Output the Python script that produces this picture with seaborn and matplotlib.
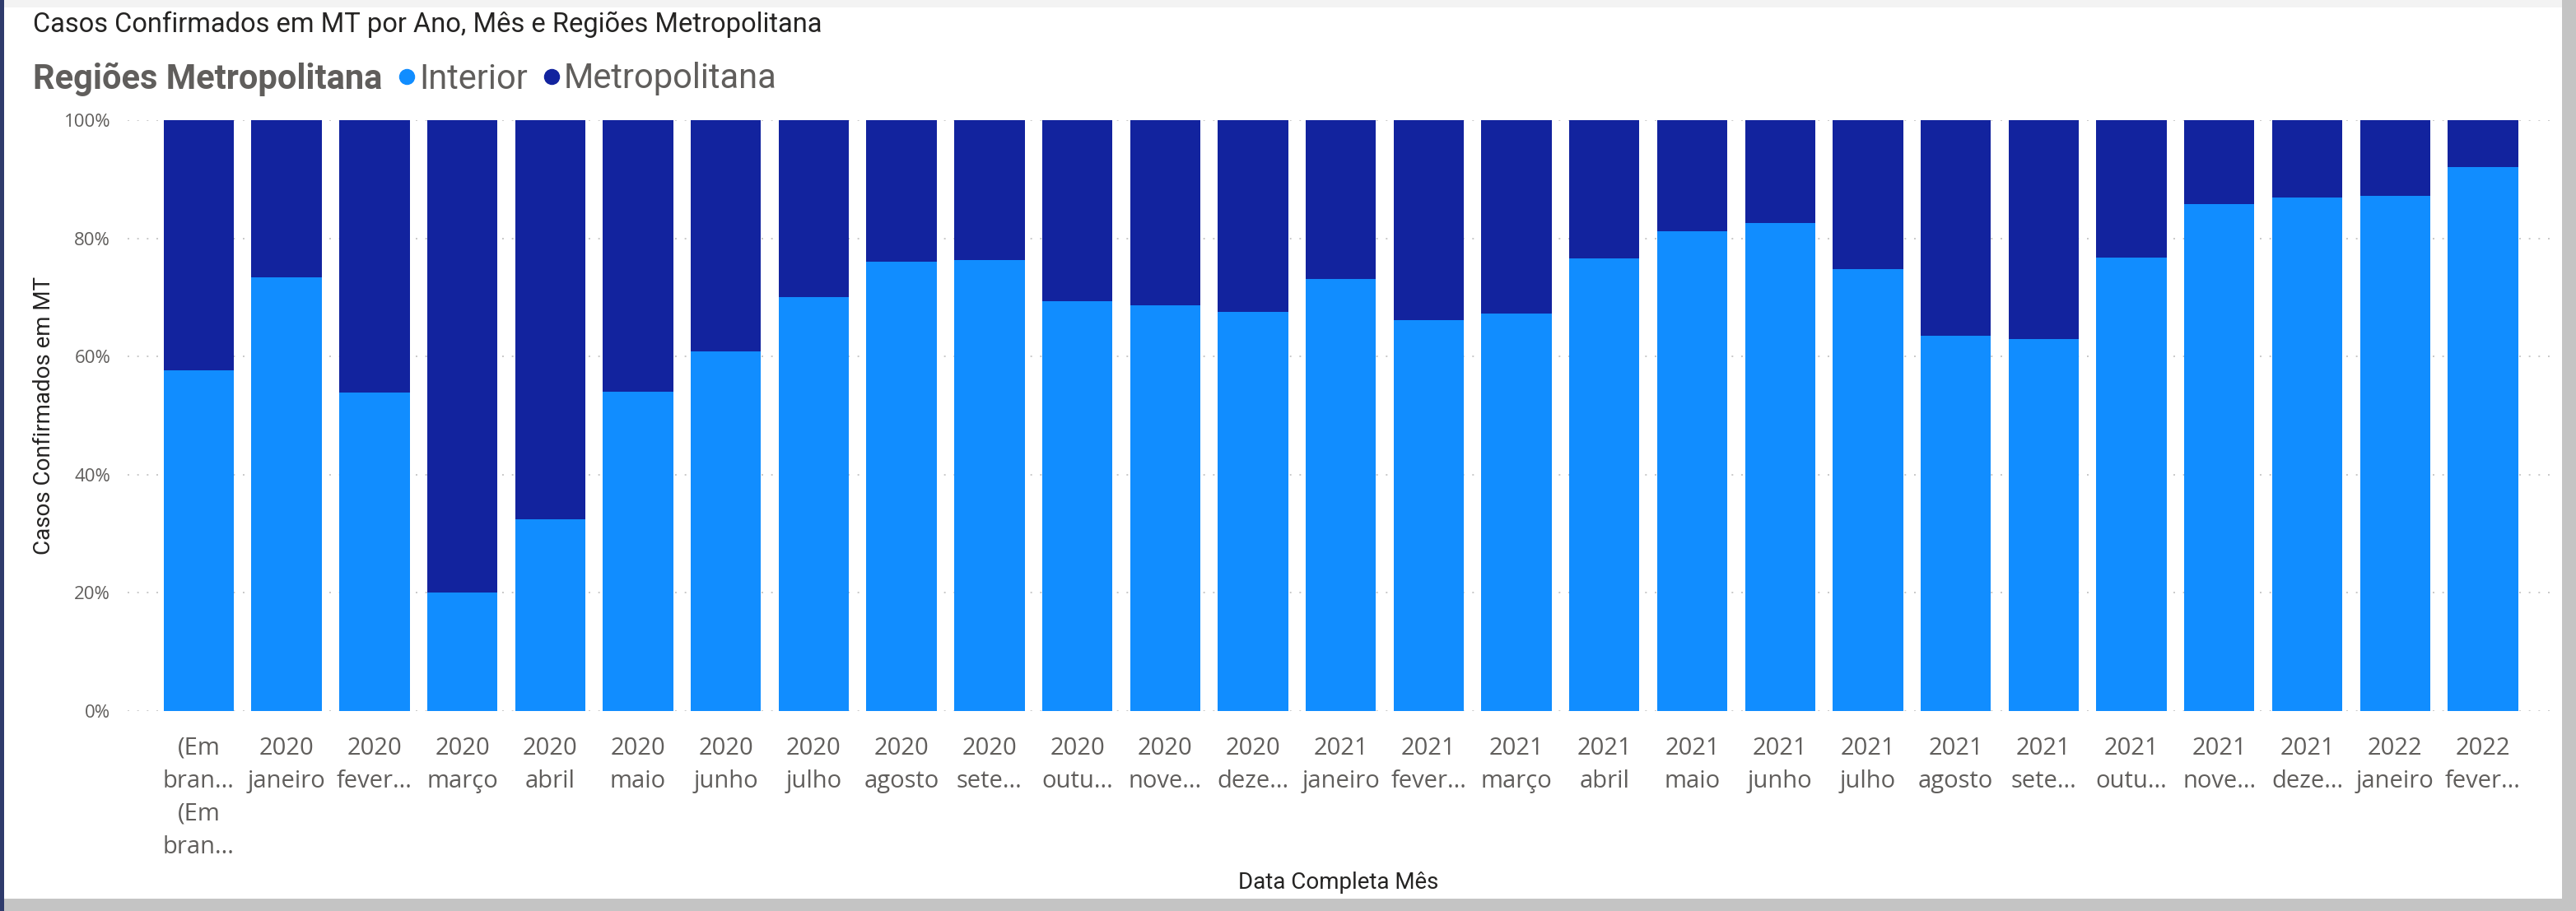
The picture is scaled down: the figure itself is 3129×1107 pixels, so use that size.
import matplotlib
matplotlib.use("Agg")
import matplotlib.pyplot as plt
import seaborn as sns
import pandas as pd
from matplotlib.patches import Rectangle
from matplotlib.lines import Line2D

# ---------------- data ----------------
categories = [
    "(Em branco)", "2020 janeiro", "2020 fevereiro", "2020 março", "2020 abril",
    "2020 maio", "2020 junho", "2020 julho", "2020 agosto", "2020 setembro",
    "2020 outubro", "2020 novembro", "2020 dezembro", "2021 janeiro",
    "2021 fevereiro", "2021 março", "2021 abril", "2021 maio", "2021 junho",
    "2021 julho", "2021 agosto", "2021 setembro", "2021 outubro",
    "2021 novembro", "2021 dezembro", "2022 janeiro", "2022 fevereiro",
]
tick_labels = [
    "(Em\nbran...\n(Em\nbran...", "2020\njaneiro", "2020\nfever...", "2020\nmarço",
    "2020\nabril", "2020\nmaio", "2020\njunho", "2020\njulho", "2020\nagosto",
    "2020\nsete...", "2020\noutu...", "2020\nnove...", "2020\ndeze...",
    "2021\njaneiro", "2021\nfever...", "2021\nmarço", "2021\nabril", "2021\nmaio",
    "2021\njunho", "2021\njulho", "2021\nagosto", "2021\nsete...", "2021\noutu...",
    "2021\nnove...", "2021\ndeze...", "2022\njaneiro", "2022\nfever...",
]
interior = [57.7, 73.4, 53.9, 20.0, 32.4, 54.0, 60.9, 70.1, 76.0, 76.3, 69.3,
            68.6, 67.5, 73.1, 66.2, 67.3, 76.6, 81.2, 82.6, 74.8, 63.5, 63.0,
            76.7, 85.8, 86.9, 87.2, 92.1]
metropolitana = [42.3, 26.6, 46.1, 80.0, 67.6, 46.0, 39.1, 29.9, 24.0, 23.7, 30.7,
                 31.4, 32.5, 26.9, 33.8, 32.7, 23.4, 18.8, 17.4, 25.2, 36.5, 37.0,
                 23.3, 14.2, 13.1, 12.8, 7.9]
y_ticks = [0, 20, 40, 60, 80, 100]
y_tick_labels = ["0%", "20%", "40%", "60%", "80%", "100%"]
series_names = ["Interior", "Metropolitana"]

title = "Casos Confirmados em MT por Ano, Mês e Regiões Metropolitana"
legend_title = "Regiões Metropolitana"
x_title = "Data Completa Mês"
y_title = "Casos Confirmados em MT"

LIGHT = "#118DFF"
DARK = "#12239E"
GREY = "#605E5C"
INK = "#252423"

# ---------------- figure ----------------
sns.set_theme(style="white")
plt.rcParams["font.family"] = ["Open Sans", "DejaVu Sans"]

W, H = 3129, 1107
fig = plt.figure(figsize=(W / 100, H / 100), dpi=100)
fig.patch.set_facecolor("#f3f3f3")

def frect(x0, y0, x1, y1, color, z=0):
    fig.patches.append(Rectangle((x0 / W, 1 - y1 / H), (x1 - x0) / W, (y1 - y0) / H,
                                 transform=fig.transFigure, facecolor=color,
                                 edgecolor="none", zorder=z))

frect(3112, 0, W, H, "#c4c4c4")
frect(0, 1092, W, H, "#c4c4c4")
frect(5, 9, 3112, 1092, "white", 1)
frect(0, 0, 5, H, "#2f3b6c", 2)

ax = fig.add_axes([155 / W, 1 - 864 / H, (3097 - 155) / W, (864 - 146) / H])
ax.set_facecolor("none")
ax.set_zorder(3)

df = pd.DataFrame({"mes": categories, "Interior": interior, "Metropolitana": metropolitana})
df["total"] = df["Interior"] + df["Metropolitana"]

sns.barplot(data=df, x="mes", y="total", order=categories, color=DARK, saturation=1,
            width=0.8, errorbar=None, linewidth=0, ax=ax)
sns.barplot(data=df, x="mes", y="Interior", order=categories, color=LIGHT, saturation=1,
            width=0.8, errorbar=None, linewidth=0, ax=ax)

ax.set_ylim(0, 100)
ax.set_xlim(-0.81, 26.76)
ax.set_yticks(y_ticks)
ax.set_yticklabels(y_tick_labels)
ax.set_xticks(range(len(categories)))
ax.set_xticklabels(tick_labels, linespacing=1.5)
ax.tick_params(axis="y", length=0, pad=15, labelsize=16, labelcolor=GREY)
ax.tick_params(axis="x", length=0, pad=22, labelsize=21, labelcolor=GREY)
for lab in ax.get_xticklabels():
    lab.set_verticalalignment("top")
ax.set_xlabel("")
ax.set_ylabel("")
for s in ax.spines.values():
    s.set_visible(False)
ax.set_axisbelow(True)
ax.yaxis.grid(True, color="#c8c8c8", linewidth=1.4, linestyle=(0, (1, 5)))
ax.xaxis.grid(False)

# titles
fig.text(40 / W, 1 - 30 / H, title, ha="left", va="center", fontsize=23.5,
         family=["Roboto", "DejaVu Sans"], color=INK, zorder=5)
fig.text(1626 / W, 1 - 1072 / H, x_title, ha="center", va="center", fontsize=20,
         family=["Roboto", "DejaVu Sans"], color=INK, zorder=5)
fig.text(54 / W, 1 - 505 / H, y_title, ha="center", va="center", rotation=90,
         fontsize=20, family=["Roboto", "DejaVu Sans"], color=INK, zorder=5)

# legend
fig.text(40 / W, 1 - 96 / H, legend_title, ha="left", va="center", fontsize=30,
         weight="bold", family=["Roboto", "DejaVu Sans"], color=GREY, zorder=5)
handles = [Line2D([], [], marker="o", linestyle="none", markersize=13,
                  markerfacecolor=c, markeredgecolor=c) for c in (LIGHT, DARK)]
leg = fig.legend(handles, series_names, loc="center left",
                 bbox_to_anchor=(484 / W, 1 - 96 / H), ncol=2, frameon=False,
                 handlelength=0.5, handletextpad=0.1, columnspacing=0.45,
                 borderpad=0, borderaxespad=0,
                 prop={"family": ["Roboto", "DejaVu Sans"], "size": 30})
for t in leg.get_texts():
    t.set_color(GREY)
leg.set_zorder(5)

fig.savefig("out.png", dpi=100, facecolor=fig.get_facecolor())
